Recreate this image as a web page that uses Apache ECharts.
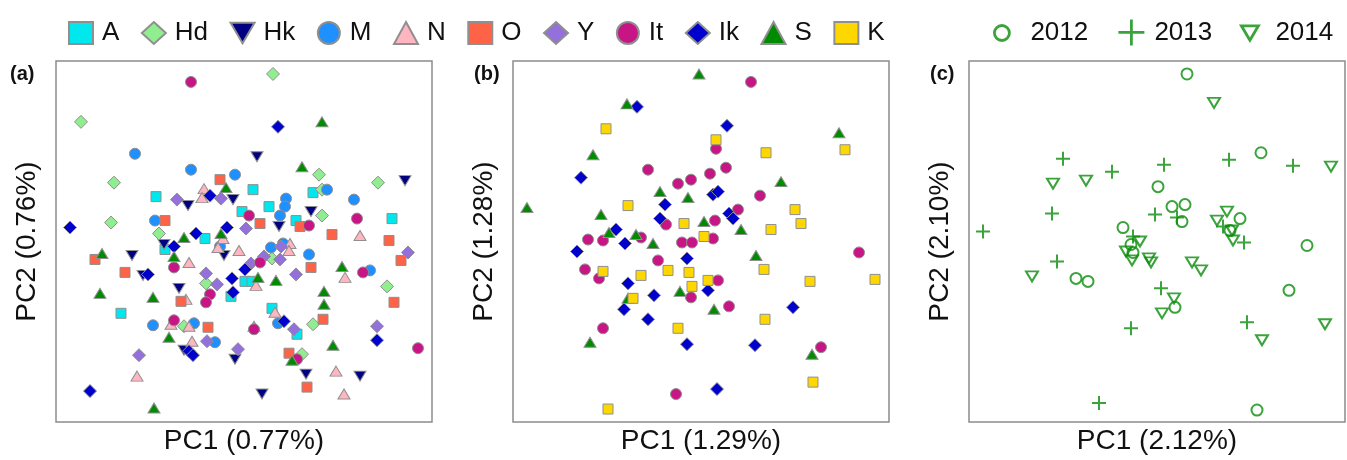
<!DOCTYPE html>
<html><head><meta charset="utf-8">
<script src="https://cdn.jsdelivr.net/npm/echarts@6/dist/echarts.min.js"></script>
<style>html,body{margin:0;padding:0;background:#fff}#chart{width:1347px;height:460px}</style>
</head><body><div id="chart"></div>
<script>
// ---------- DATA (PC1, PC2 scores, arbitrary units) ----------
const legendNames = ['A','Hd','Hk','M','N','O','Y','It','Ik','S','K'];
const yearNames = ['2012','2013','2014'];
const axisTitles = {
  a: ['PC1 (0.77%)','PC2 (0.76%)'],
  b: ['PC1 (1.29%)','PC2 (1.28%)'],
  c: ['PC1 (2.12%)','PC2 (2.10%)']
};
// panel (a)
const a_A  = [[197,233],[257,230],[100,226],[213,216],[186,211],[336,204],[240,202],[149,184],[109,173],[189,141],[196,141],[175,126],[65,109],[216,114],[241,88]];
const a_Hd = [[217,349],[25,301],[263,248],[58,240],[322,240],[266,233],[266,207],[55,200],[103,189],[216,164],[150,139],[331,136],[128,96],[257,98],[246,68]];
const a_Hk = [[201,266],[349,242],[177,223],[132,217],[255,211],[223,196],[108,178],[168,167],[76,167],[87,147],[123,134],[128,72],[179,63],[250,48],[304,46],[206,28]];
const a_M  = [[79,269],[135,253],[179,248],[271,233],[230,224],[229,216],[298,223],[224,207],[99,202],[164,176],[215,175],[227,179],[253,168],[314,152],[97,97],[138,99],[222,99],[159,80]];
const a_N  = [[148,234],[146,225],[167,184],[304,187],[162,175],[183,172],[234,179],[233,172],[133,160],[200,137],[289,145],[130,123],[219,110],[115,98],[133,96],[198,96],[136,81],[81,46],[280,51],[288,28]];
const a_O  = [[164,243],[109,202],[204,199],[244,196],[276,188],[333,182],[39,163],[345,162],[69,150],[255,155],[125,121],[338,120],[152,95],[267,103],[233,69],[251,35]];
const a_Y  = [[121,223],[165,224],[190,194],[225,176],[352,170],[208,166],[224,163],[150,149],[161,138],[195,159],[240,148],[238,93],[321,96],[151,81],[182,73],[83,67]];
const a_It = [[135,341],[193,207],[301,204],[253,197],[118,155],[204,160],[307,150],[154,128],[150,120],[118,102],[198,93],[362,74],[241,63]];
const a_Ik = [[222,296],[154,227],[14,195],[171,195],[140,189],[118,176],[92,148],[176,144],[189,153],[177,130],[228,101],[321,82],[133,71],[137,67],[34,31]];
const a_S  = [[266,301],[246,256],[170,235],[165,189],[128,185],[46,169],[118,166],[202,145],[220,142],[286,156],[44,129],[97,125],[268,131],[268,118],[113,85],[277,77],[236,62],[98,14]];
// panel (b)
const b_It = [[238,341],[203,274],[135,253],[165,239],[178,243],[197,249],[213,255],[247,227],[153,198],[202,202],[225,213],[128,185],[75,183],[90,182],[169,180],[179,180],[200,184],[145,162],[346,170],[72,153],[86,144],[205,142],[178,125],[216,116],[90,94],[308,75],[163,28]];
const b_Ik = [[124,316],[214,297],[68,245],[200,228],[205,231],[152,218],[147,204],[216,209],[220,204],[103,193],[112,179],[64,171],[174,164],[115,139],[195,132],[141,127],[111,113],[280,115],[135,103],[174,78],[242,77],[204,33]];
const b_S  = [[186,349],[114,319],[326,290],[80,268],[268,241],[14,215],[147,231],[175,225],[88,208],[191,201],[228,193],[96,190],[123,188],[140,179],[243,167],[167,131],[115,124],[201,113],[77,80],[299,68]];
const b_K  = [[93,294],[203,283],[253,270],[332,273],[115,217],[171,199],[258,193],[282,213],[288,199],[191,186],[90,151],[128,147],[155,152],[176,150],[195,142],[251,153],[297,141],[362,143],[179,136],[120,124],[165,94],[252,103],[300,40],[95,13]];
// panel (c)
const c_2012 = [[218,349],[292,270],[189,236],[203,216],[216,218],[213,201],[271,204],[154,195],[162,178],[164,170],[338,177],[107,144],[119,141],[206,115],[320,132],[288,12],[261,192]];
const c_2013 = [[94,264],[143,251],[195,258],[260,263],[324,257],[83,209],[186,208],[208,205],[254,196],[14,191],[164,186],[88,161],[192,134],[162,94],[278,100],[130,19],[275,180]];
const c_2014 = [[245,320],[362,256],[84,239],[117,242],[258,211],[248,202],[263,192],[264,182],[171,181],[157,171],[163,162],[180,164],[182,160],[223,160],[232,152],[63,146],[205,124],[193,109],[293,82],[356,98]];

// ---------- STYLES ----------
const FONT = '"Liberation Sans", Arial, sans-serif';
const GRAY = '#8f8f8f';
const GREEN = '#0a8c0a';
const TRI = 'triangle';
const DOWN_TRI = 'path://M0,0L20,0L10,17Z';
const sty = {
  A:  {symbol:'rect', size:[10,10], color:'#00e8ee'},
  Hd: {symbol:'diamond', size:[13,13], color:'#90ee90'},
  Hk: {symbol:TRI, size:[12,10], color:'#000080', rot:180},
  M:  {symbol:'circle', size:11, color:'#1e90ff'},
  N:  {symbol:TRI, size:[12,10], color:'#ffb6c1'},
  O:  {symbol:'rect', size:[10,10], color:'#ff6347'},
  Y:  {symbol:'diamond', size:[13,13], color:'#9370db'},
  It: {symbol:'circle', size:11, color:'#c71585'},
  Ik: {symbol:'diamond', size:[13,13], color:'#0000cd'},
  S:  {symbol:TRI, size:[12,10], color:'#008b00'},
  K:  {symbol:'rect', size:[10,10], color:'#ffd700'}
};
function pt(name, data, g){
  const s = sty[name];
  return {type:'scatter', name, data, xAxisIndex:g, yAxisIndex:g,
    symbol:s.symbol, symbolSize:s.size, symbolRotate:s.rot||0,
    itemStyle:{color:s.color, borderColor:GRAY, borderWidth:1, opacity:1},
    emphasis:{disabled:true}, animation:false};
}
const PLUS = 'path://M0,7L14,7M7,0L7,14';
function open(name, data, symbol, size, rot){
  return {type:'scatter', name, data, xAxisIndex:2, yAxisIndex:2,
    symbol, symbolSize:size, symbolRotate:rot||0,
    itemStyle:{color:'rgba(0,0,0,0)', borderColor:GREEN, borderWidth:2},
    emphasis:{disabled:true}, animation:false};
}

const grids = [{left:56},{left:513},{left:969}].map(g=>({left:g.left, top:61, width:376, height:362,
  show:true, borderColor:'#8c8c8c', borderWidth:1.5, backgroundColor:'transparent'}));
const keys = ['a','b','c'];
const xAxes = keys.map((k,i)=>({gridIndex:i, type:'value', min:0, max:376,
  axisLine:{show:false}, axisTick:{show:false}, axisLabel:{show:false}, splitLine:{show:false},
  name:axisTitles[k][0], nameLocation:'middle', nameGap:5,
  nameTextStyle:{fontSize:28, color:'#111', fontFamily:FONT}}));
const yAxes = keys.map((k,i)=>({gridIndex:i, type:'value', min:0, max:362,
  axisLine:{show:false}, axisTick:{show:false}, axisLabel:{show:false}, splitLine:{show:false},
  name:axisTitles[k][1], nameLocation:'middle', nameGap:15,
  nameTextStyle:{fontSize:28, color:'#111', fontFamily:FONT}}));

const series = [
  pt('A',a_A,0), pt('Hd',a_Hd,0), pt('Hk',a_Hk,0), pt('M',a_M,0), pt('N',a_N,0),
  pt('O',a_O,0), pt('Y',a_Y,0), pt('It',a_It,0), pt('Ik',a_Ik,0), pt('S',a_S,0),
  pt('It',b_It,1), pt('Ik',b_Ik,1), pt('S',b_S,1), pt('K',b_K,1),
  open('2012',c_2012,'circle',11), open('2013',c_2013,PLUS,14), open('2014',c_2014,'triangle',[12,10],180)
];

const legText = {fontSize:26, color:'#111', fontFamily:FONT};
const legData = legendNames.map(n => n === 'Hk' ? {name:n, icon:DOWN_TRI} : {name:n});
const yearIcon = {borderWidth:2.8, borderColor:GREEN};
const legends = [
  {data:legData, left:68, top:20, padding:0, itemWidth:24, itemHeight:22, itemGap:21.5,
   textStyle:Object.assign({padding:[0,0,0,4]}, legText), selectedMode:false},
  {data:[yearNames[0]], left:993, top:20, padding:0, itemWidth:15, itemHeight:15, itemStyle:yearIcon,
   textStyle:Object.assign({padding:[0,0,0,16]}, legText), selectedMode:false},
  {data:[yearNames[1]], left:1117, top:18, padding:0, itemWidth:26, itemHeight:26, itemStyle:yearIcon,
   textStyle:Object.assign({padding:[0,0,0,5]}, legText), selectedMode:false},
  {data:[{name:yearNames[2], icon:DOWN_TRI}], left:1240, top:20, padding:0, itemWidth:17, itemHeight:15, itemStyle:yearIcon,
   textStyle:Object.assign({padding:[0,0,0,12]}, legText), selectedMode:false}
];

const panelLabels = ['(a)','(b)','(c)'];
const labelX = [10, 474, 930];
const graphic = panelLabels.map((t,i)=>({type:'text', left:labelX[i], top:64,
  style:{text:t, font:'bold 20px '+FONT, fill:'#111'}}));

const chart = echarts.init(document.getElementById('chart'), null, {renderer:'canvas'});
chart.setOption({animation:false, backgroundColor:'#fff', grid:grids, xAxis:xAxes, yAxis:yAxes,
  legend:legends, series, graphic});
</script></body></html>
